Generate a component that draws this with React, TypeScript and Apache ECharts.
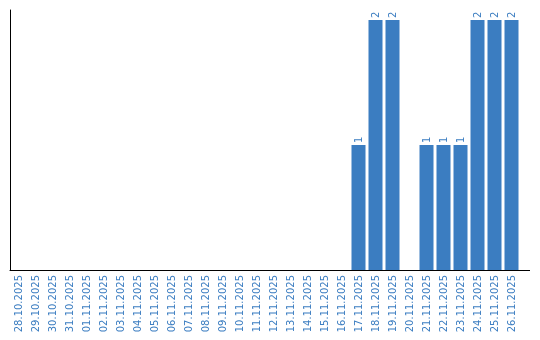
import React, { useEffect, useRef } from "react";
import * as echarts from "echarts";

const categories: string[] = [
  "28.10.2025", "29.10.2025", "30.10.2025", "31.10.2025", "01.11.2025",
  "02.11.2025", "03.11.2025", "04.11.2025", "05.11.2025", "06.11.2025",
  "07.11.2025", "08.11.2025", "09.11.2025", "10.11.2025", "11.11.2025",
  "12.11.2025", "13.11.2025", "14.11.2025", "15.11.2025", "16.11.2025",
  "17.11.2025", "18.11.2025", "19.11.2025", "20.11.2025", "21.11.2025",
  "22.11.2025", "23.11.2025", "24.11.2025", "25.11.2025", "26.11.2025",
];

const values: number[] = [
  0, 0, 0, 0, 0, 0, 0, 0, 0, 0,
  0, 0, 0, 0, 0, 0, 0, 0, 0, 0,
  1, 2, 2, 0, 1, 1, 1, 2, 2, 2,
];

const BLUE = "#3b7dc1";

export default function App() {
  const ref = useRef<HTMLDivElement>(null);
  useEffect(() => {
    if (!ref.current) return;
    const chart = echarts.init(ref.current, undefined, { renderer: "svg" });
    chart.setOption({
      animation: false,
      grid: { left: 10, top: 10, width: 510, bottom: 70, containLabel: false },
      xAxis: {
        type: "category",
        data: categories,
        axisLine: { show: true, lineStyle: { color: "#000", width: 1 } },
        axisTick: { show: false },
        axisLabel: {
          rotate: 90,
          interval: 0,
          margin: 5,
          color: BLUE,
          fontSize: 10,
          fontFamily: "DejaVu Sans",
        },
      },
      yAxis: {
        type: "value",
        min: 0,
        max: 2.08,
        axisLine: { show: true, lineStyle: { color: "#000", width: 1 } },
        axisTick: { show: false },
        axisLabel: { show: false },
        splitLine: { show: false },
      },
      graphic: [
        {
          type: "line",
          shape: { x1: 519, y1: 270.5, x2: 530, y2: 270.5 },
          style: { stroke: "#000", lineWidth: 1 },
        },
      ],
      series: [
        {
          type: "bar",
          data: values,
          barWidth: 14,
          itemStyle: { color: BLUE },
          label: {
            show: true,
            position: "top",
            rotate: 90,
            align: "left",
            verticalAlign: "middle",
            distance: 2,
            color: BLUE,
            fontSize: 10,
            fontFamily: "DejaVu Sans",
            formatter: (p: any) => (p.value ? String(p.value) : ""),
          },
        },
      ],
    });
    return () => chart.dispose();
  }, []);
  return (
    <div
      ref={ref}
      style={{ position: "fixed", left: 0, top: 0, width: 540, height: 340 }}
    />
  );
}
